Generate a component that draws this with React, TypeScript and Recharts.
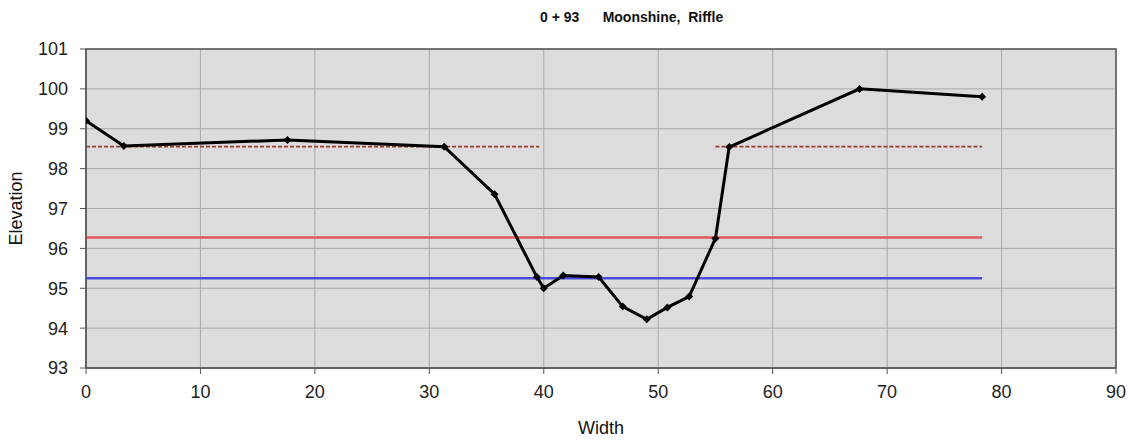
import {
  ComposedChart,
  Line,
  XAxis,
  YAxis,
  CartesianGrid,
  ReferenceArea,
  Label,
} from 'recharts'

// cross-section survey: station 0 + 93
const widths = [0, 3.3, 17.6, 31.3, 35.7, 39.4, 40.0, 41.7, 44.8, 46.9, 49.0, 50.8, 52.7, 55.0, 56.2, 67.6, 78.3]
const elevations = [99.2, 98.57, 98.72, 98.55, 97.36, 95.28, 95.0, 95.32, 95.28, 94.54, 94.22, 94.52, 94.79, 96.25, 98.54, 100.0, 99.8]

// bankfull (dashed), split in two pieces around the channel
const bankLeftX = [0, 39.6]
const bankRightX = [55.0, 78.3]
const bankElevation = 98.55

// horizontal water-level lines
const levelX = [0, 78.3]
const redLevel = 96.27
const blueLevel = 95.25

const xTicks = [0, 10, 20, 30, 40, 50, 60, 70, 80, 90]
const yTicks = [93, 94, 95, 96, 97, 98, 99, 100, 101]

const profile = widths.map((x, i) => ({ x, y: elevations[i] }))
const flat = (xs: number[], y: number) => xs.map((x) => ({ x, y }))

const FONT = '"Liberation Sans", Arial, sans-serif'
const tickStyle = { fontSize: 18, fill: '#222', fontFamily: FONT }

const Diamond = (props: any) => {
  const { cx, cy } = props
  if (cx == null || cy == null) return null
  const s = 4
  return (
    <polygon
      points={`${cx},${cy - s} ${cx + s},${cy} ${cx},${cy + s} ${cx - s},${cy}`}
      fill="#000"
    />
  )
}

export default function App() {
  return (
    <div style={{ position: 'relative', width: 1130, height: 441, background: '#fff', fontFamily: FONT }}>
      <style>{'body{margin:0}'}</style>
      <div
        style={{
          position: 'absolute',
          left: 540,
          top: 9,
          fontSize: 14,
          fontWeight: 'bold',
          color: '#111',
          whiteSpace: 'pre',
        }}
      >
        {'0 + 93      Moonshine,  Riffle'}
      </div>
      <ComposedChart
        width={1130}
        height={441}
        margin={{ top: 49, right: 14, left: 30, bottom: 13 }}
      >
        <CartesianGrid stroke="#a9a9a9" fill="#dcdcdc" fillOpacity={1} />
        <XAxis
          type="number"
          dataKey="x"
          domain={[0, 90]}
          ticks={xTicks}
          allowDataOverflow
          stroke="#555"
          tickSize={6}
          tickMargin={11}
          tick={tickStyle}
          height={60}
        >
          <Label value="Width" position="insideBottom" offset={-6} style={{ fontSize: 18, fill: '#111', fontFamily: FONT }} />
        </XAxis>
        <YAxis
          type="number"
          domain={[93, 101]}
          ticks={yTicks}
          allowDataOverflow
          stroke="#555"
          tickSize={6}
          tickMargin={12}
          tick={tickStyle}
          width={56}
        >
          <Label
            value="Elevation"
            angle={-90}
            position="insideLeft"
            offset={-14}
            style={{ fontSize: 18, fill: '#111', fontFamily: FONT, textAnchor: 'middle' }}
          />
        </YAxis>
        <ReferenceArea x1={0} x2={90} y1={93} y2={101} fill="none" stroke="#555" strokeWidth={1.5} />
        <Line data={flat(levelX, redLevel)} dataKey="y" stroke="#e0585e" strokeWidth={2.5} dot={false} isAnimationActive={false} />
        <Line data={flat(levelX, blueLevel)} dataKey="y" stroke="#4a4ae0" strokeWidth={2.5} dot={false} isAnimationActive={false} />
        <Line data={flat(bankLeftX, bankElevation)} dataKey="y" stroke="#9c3a36" strokeWidth={1.8} strokeDasharray="4 2" dot={false} isAnimationActive={false} />
        <Line data={flat(bankRightX, bankElevation)} dataKey="y" stroke="#9c3a36" strokeWidth={1.8} strokeDasharray="4 2" dot={false} isAnimationActive={false} />
        <Line
          data={profile}
          dataKey="y"
          stroke="#000"
          strokeWidth={3}
          dot={<Diamond />}
          isAnimationActive={false}
        />
      </ComposedChart>
    </div>
  )
}
